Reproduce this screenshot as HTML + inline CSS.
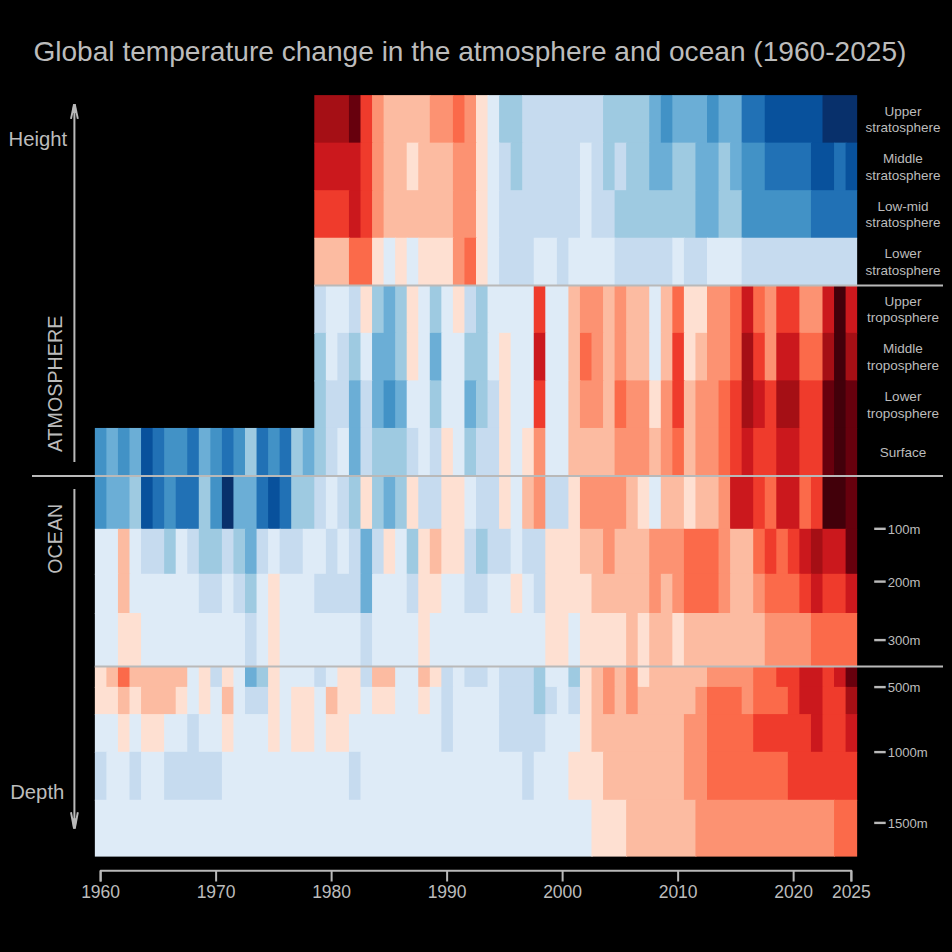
<!DOCTYPE html>
<html><head><meta charset="utf-8"><title>Global temperature change in the atmosphere and ocean (1960-2025)</title>
<style>
html,body{margin:0;padding:0;background:#000;}
body{width:952px;height:952px;overflow:hidden;}
svg{display:block;}
text{font-family:"Liberation Sans",Arial,Helvetica,sans-serif;fill:#bcbcbc;}
</style></head>
<body>
<svg width="952" height="952" viewBox="0 0 952 952">
<rect x="0" y="0" width="952" height="952" fill="#000"/>
<text x="33.4" y="60.7" font-size="28" textLength="873" lengthAdjust="spacingAndGlyphs">Global temperature change in the atmosphere and ocean (1960-2025)</text>
<g>
<rect x="314.30" y="95.10" width="35.65" height="48.55" fill="#a50f15"/>
<rect x="348.95" y="95.10" width="12.55" height="48.55" fill="#67000d"/>
<rect x="360.50" y="95.10" width="12.55" height="48.55" fill="#ef3b2c"/>
<rect x="372.05" y="95.10" width="12.55" height="48.55" fill="#fc9272"/>
<rect x="383.60" y="95.10" width="47.20" height="48.55" fill="#fcbba1"/>
<rect x="429.80" y="95.10" width="24.10" height="48.55" fill="#fc9272"/>
<rect x="452.90" y="95.10" width="12.55" height="48.55" fill="#fb6a4a"/>
<rect x="464.45" y="95.10" width="12.55" height="48.55" fill="#fc9272"/>
<rect x="476.00" y="95.10" width="12.55" height="48.55" fill="#fee0d2"/>
<rect x="487.55" y="95.10" width="12.55" height="48.55" fill="#deebf7"/>
<rect x="499.10" y="95.10" width="24.10" height="48.55" fill="#9ecae1"/>
<rect x="522.20" y="95.10" width="81.85" height="48.55" fill="#c6dbef"/>
<rect x="603.05" y="95.10" width="47.20" height="48.55" fill="#9ecae1"/>
<rect x="649.25" y="95.10" width="12.55" height="48.55" fill="#6baed6"/>
<rect x="660.80" y="95.10" width="12.55" height="48.55" fill="#4292c6"/>
<rect x="672.35" y="95.10" width="35.65" height="48.55" fill="#6baed6"/>
<rect x="707.00" y="95.10" width="12.55" height="48.55" fill="#4292c6"/>
<rect x="718.55" y="95.10" width="24.10" height="48.55" fill="#6baed6"/>
<rect x="741.65" y="95.10" width="24.10" height="48.55" fill="#2171b5"/>
<rect x="764.75" y="95.10" width="58.75" height="48.55" fill="#08519c"/>
<rect x="822.50" y="95.10" width="34.65" height="48.55" fill="#08306b"/>
<rect x="314.30" y="142.65" width="47.20" height="48.55" fill="#cb181d"/>
<rect x="360.50" y="142.65" width="12.55" height="48.55" fill="#ef3b2c"/>
<rect x="372.05" y="142.65" width="12.55" height="48.55" fill="#fc9272"/>
<rect x="383.60" y="142.65" width="24.10" height="48.55" fill="#fcbba1"/>
<rect x="406.70" y="142.65" width="12.55" height="48.55" fill="#fee0d2"/>
<rect x="418.25" y="142.65" width="35.65" height="48.55" fill="#fcbba1"/>
<rect x="452.90" y="142.65" width="24.10" height="48.55" fill="#fc9272"/>
<rect x="476.00" y="142.65" width="12.55" height="48.55" fill="#fee0d2"/>
<rect x="487.55" y="142.65" width="12.55" height="48.55" fill="#deebf7"/>
<rect x="499.10" y="142.65" width="12.55" height="48.55" fill="#c6dbef"/>
<rect x="510.65" y="142.65" width="12.55" height="48.55" fill="#9ecae1"/>
<rect x="522.20" y="142.65" width="58.75" height="48.55" fill="#c6dbef"/>
<rect x="579.95" y="142.65" width="12.55" height="48.55" fill="#deebf7"/>
<rect x="591.50" y="142.65" width="12.55" height="48.55" fill="#c6dbef"/>
<rect x="603.05" y="142.65" width="12.55" height="48.55" fill="#9ecae1"/>
<rect x="614.60" y="142.65" width="12.55" height="48.55" fill="#c6dbef"/>
<rect x="626.15" y="142.65" width="24.10" height="48.55" fill="#9ecae1"/>
<rect x="649.25" y="142.65" width="24.10" height="48.55" fill="#6baed6"/>
<rect x="672.35" y="142.65" width="24.10" height="48.55" fill="#9ecae1"/>
<rect x="695.45" y="142.65" width="24.10" height="48.55" fill="#6baed6"/>
<rect x="718.55" y="142.65" width="12.55" height="48.55" fill="#9ecae1"/>
<rect x="730.10" y="142.65" width="12.55" height="48.55" fill="#6baed6"/>
<rect x="741.65" y="142.65" width="24.10" height="48.55" fill="#4292c6"/>
<rect x="764.75" y="142.65" width="47.20" height="48.55" fill="#2171b5"/>
<rect x="810.95" y="142.65" width="24.10" height="48.55" fill="#08519c"/>
<rect x="834.05" y="142.65" width="12.55" height="48.55" fill="#2171b5"/>
<rect x="845.60" y="142.65" width="11.55" height="48.55" fill="#08519c"/>
<rect x="314.30" y="190.20" width="35.65" height="48.55" fill="#ef3b2c"/>
<rect x="348.95" y="190.20" width="12.55" height="48.55" fill="#cb181d"/>
<rect x="360.50" y="190.20" width="12.55" height="48.55" fill="#ef3b2c"/>
<rect x="372.05" y="190.20" width="12.55" height="48.55" fill="#fc9272"/>
<rect x="383.60" y="190.20" width="70.30" height="48.55" fill="#fcbba1"/>
<rect x="452.90" y="190.20" width="24.10" height="48.55" fill="#fc9272"/>
<rect x="476.00" y="190.20" width="12.55" height="48.55" fill="#fee0d2"/>
<rect x="487.55" y="190.20" width="12.55" height="48.55" fill="#deebf7"/>
<rect x="499.10" y="190.20" width="81.85" height="48.55" fill="#c6dbef"/>
<rect x="579.95" y="190.20" width="12.55" height="48.55" fill="#deebf7"/>
<rect x="591.50" y="190.20" width="24.10" height="48.55" fill="#c6dbef"/>
<rect x="614.60" y="190.20" width="81.85" height="48.55" fill="#9ecae1"/>
<rect x="695.45" y="190.20" width="24.10" height="48.55" fill="#6baed6"/>
<rect x="718.55" y="190.20" width="24.10" height="48.55" fill="#9ecae1"/>
<rect x="741.65" y="190.20" width="70.30" height="48.55" fill="#4292c6"/>
<rect x="810.95" y="190.20" width="46.20" height="48.55" fill="#2171b5"/>
<rect x="314.30" y="237.75" width="35.65" height="48.55" fill="#fcbba1"/>
<rect x="348.95" y="237.75" width="24.10" height="48.55" fill="#fb6a4a"/>
<rect x="372.05" y="237.75" width="12.55" height="48.55" fill="#fee0d2"/>
<rect x="383.60" y="237.75" width="12.55" height="48.55" fill="#deebf7"/>
<rect x="395.15" y="237.75" width="12.55" height="48.55" fill="#fee0d2"/>
<rect x="406.70" y="237.75" width="12.55" height="48.55" fill="#deebf7"/>
<rect x="418.25" y="237.75" width="35.65" height="48.55" fill="#fee0d2"/>
<rect x="452.90" y="237.75" width="12.55" height="48.55" fill="#fc9272"/>
<rect x="464.45" y="237.75" width="12.55" height="48.55" fill="#fb6a4a"/>
<rect x="476.00" y="237.75" width="12.55" height="48.55" fill="#fee0d2"/>
<rect x="487.55" y="237.75" width="12.55" height="48.55" fill="#deebf7"/>
<rect x="499.10" y="237.75" width="35.65" height="48.55" fill="#c6dbef"/>
<rect x="533.75" y="237.75" width="24.10" height="48.55" fill="#deebf7"/>
<rect x="556.85" y="237.75" width="12.55" height="48.55" fill="#c6dbef"/>
<rect x="568.40" y="237.75" width="47.20" height="48.55" fill="#deebf7"/>
<rect x="614.60" y="237.75" width="58.75" height="48.55" fill="#c6dbef"/>
<rect x="672.35" y="237.75" width="12.55" height="48.55" fill="#deebf7"/>
<rect x="683.90" y="237.75" width="24.10" height="48.55" fill="#c6dbef"/>
<rect x="707.00" y="237.75" width="35.65" height="48.55" fill="#deebf7"/>
<rect x="741.65" y="237.75" width="115.50" height="48.55" fill="#c6dbef"/>
<rect x="314.30" y="285.30" width="12.55" height="48.55" fill="#c6dbef"/>
<rect x="325.85" y="285.30" width="24.10" height="48.55" fill="#deebf7"/>
<rect x="348.95" y="285.30" width="12.55" height="48.55" fill="#c6dbef"/>
<rect x="360.50" y="285.30" width="12.55" height="48.55" fill="#fee0d2"/>
<rect x="372.05" y="285.30" width="12.55" height="48.55" fill="#9ecae1"/>
<rect x="383.60" y="285.30" width="12.55" height="48.55" fill="#6baed6"/>
<rect x="395.15" y="285.30" width="12.55" height="48.55" fill="#9ecae1"/>
<rect x="406.70" y="285.30" width="12.55" height="48.55" fill="#fee0d2"/>
<rect x="418.25" y="285.30" width="12.55" height="48.55" fill="#deebf7"/>
<rect x="429.80" y="285.30" width="12.55" height="48.55" fill="#9ecae1"/>
<rect x="441.35" y="285.30" width="12.55" height="48.55" fill="#deebf7"/>
<rect x="452.90" y="285.30" width="12.55" height="48.55" fill="#fee0d2"/>
<rect x="464.45" y="285.30" width="12.55" height="48.55" fill="#c6dbef"/>
<rect x="476.00" y="285.30" width="12.55" height="48.55" fill="#9ecae1"/>
<rect x="487.55" y="285.30" width="47.20" height="48.55" fill="#deebf7"/>
<rect x="533.75" y="285.30" width="12.55" height="48.55" fill="#ef3b2c"/>
<rect x="545.30" y="285.30" width="24.10" height="48.55" fill="#deebf7"/>
<rect x="568.40" y="285.30" width="12.55" height="48.55" fill="#fcbba1"/>
<rect x="579.95" y="285.30" width="24.10" height="48.55" fill="#fc9272"/>
<rect x="603.05" y="285.30" width="12.55" height="48.55" fill="#fcbba1"/>
<rect x="614.60" y="285.30" width="12.55" height="48.55" fill="#fc9272"/>
<rect x="626.15" y="285.30" width="24.10" height="48.55" fill="#fcbba1"/>
<rect x="649.25" y="285.30" width="12.55" height="48.55" fill="#deebf7"/>
<rect x="660.80" y="285.30" width="12.55" height="48.55" fill="#fcbba1"/>
<rect x="672.35" y="285.30" width="12.55" height="48.55" fill="#fb6a4a"/>
<rect x="683.90" y="285.30" width="24.10" height="48.55" fill="#fee0d2"/>
<rect x="707.00" y="285.30" width="24.10" height="48.55" fill="#fc9272"/>
<rect x="730.10" y="285.30" width="12.55" height="48.55" fill="#fb6a4a"/>
<rect x="741.65" y="285.30" width="12.55" height="48.55" fill="#cb181d"/>
<rect x="753.20" y="285.30" width="12.55" height="48.55" fill="#fb6a4a"/>
<rect x="764.75" y="285.30" width="12.55" height="48.55" fill="#fc9272"/>
<rect x="776.30" y="285.30" width="24.10" height="48.55" fill="#ef3b2c"/>
<rect x="799.40" y="285.30" width="24.10" height="48.55" fill="#fc9272"/>
<rect x="822.50" y="285.30" width="12.55" height="48.55" fill="#cb181d"/>
<rect x="834.05" y="285.30" width="12.55" height="48.55" fill="#42000a"/>
<rect x="845.60" y="285.30" width="11.55" height="48.55" fill="#cb181d"/>
<rect x="314.30" y="332.85" width="12.55" height="48.55" fill="#9ecae1"/>
<rect x="325.85" y="332.85" width="12.55" height="48.55" fill="#deebf7"/>
<rect x="337.40" y="332.85" width="12.55" height="48.55" fill="#c6dbef"/>
<rect x="348.95" y="332.85" width="12.55" height="48.55" fill="#9ecae1"/>
<rect x="360.50" y="332.85" width="12.55" height="48.55" fill="#deebf7"/>
<rect x="372.05" y="332.85" width="24.10" height="48.55" fill="#6baed6"/>
<rect x="395.15" y="332.85" width="12.55" height="48.55" fill="#9ecae1"/>
<rect x="406.70" y="332.85" width="12.55" height="48.55" fill="#fee0d2"/>
<rect x="418.25" y="332.85" width="12.55" height="48.55" fill="#deebf7"/>
<rect x="429.80" y="332.85" width="12.55" height="48.55" fill="#6baed6"/>
<rect x="441.35" y="332.85" width="24.10" height="48.55" fill="#deebf7"/>
<rect x="464.45" y="332.85" width="24.10" height="48.55" fill="#9ecae1"/>
<rect x="487.55" y="332.85" width="12.55" height="48.55" fill="#deebf7"/>
<rect x="499.10" y="332.85" width="12.55" height="48.55" fill="#fee0d2"/>
<rect x="510.65" y="332.85" width="24.10" height="48.55" fill="#deebf7"/>
<rect x="533.75" y="332.85" width="12.55" height="48.55" fill="#cb181d"/>
<rect x="545.30" y="332.85" width="24.10" height="48.55" fill="#deebf7"/>
<rect x="568.40" y="332.85" width="12.55" height="48.55" fill="#fcbba1"/>
<rect x="579.95" y="332.85" width="12.55" height="48.55" fill="#fb6a4a"/>
<rect x="591.50" y="332.85" width="12.55" height="48.55" fill="#fc9272"/>
<rect x="603.05" y="332.85" width="12.55" height="48.55" fill="#fcbba1"/>
<rect x="614.60" y="332.85" width="12.55" height="48.55" fill="#fc9272"/>
<rect x="626.15" y="332.85" width="24.10" height="48.55" fill="#fcbba1"/>
<rect x="649.25" y="332.85" width="12.55" height="48.55" fill="#deebf7"/>
<rect x="660.80" y="332.85" width="12.55" height="48.55" fill="#fcbba1"/>
<rect x="672.35" y="332.85" width="12.55" height="48.55" fill="#ef3b2c"/>
<rect x="683.90" y="332.85" width="12.55" height="48.55" fill="#fee0d2"/>
<rect x="695.45" y="332.85" width="12.55" height="48.55" fill="#fcbba1"/>
<rect x="707.00" y="332.85" width="24.10" height="48.55" fill="#fc9272"/>
<rect x="730.10" y="332.85" width="12.55" height="48.55" fill="#fb6a4a"/>
<rect x="741.65" y="332.85" width="12.55" height="48.55" fill="#a50f15"/>
<rect x="753.20" y="332.85" width="12.55" height="48.55" fill="#ef3b2c"/>
<rect x="764.75" y="332.85" width="12.55" height="48.55" fill="#fc9272"/>
<rect x="776.30" y="332.85" width="24.10" height="48.55" fill="#cb181d"/>
<rect x="799.40" y="332.85" width="24.10" height="48.55" fill="#fb6a4a"/>
<rect x="822.50" y="332.85" width="12.55" height="48.55" fill="#a50f15"/>
<rect x="834.05" y="332.85" width="12.55" height="48.55" fill="#42000a"/>
<rect x="845.60" y="332.85" width="11.55" height="48.55" fill="#a50f15"/>
<rect x="314.30" y="380.40" width="12.55" height="48.55" fill="#9ecae1"/>
<rect x="325.85" y="380.40" width="24.10" height="48.55" fill="#c6dbef"/>
<rect x="348.95" y="380.40" width="12.55" height="48.55" fill="#6baed6"/>
<rect x="360.50" y="380.40" width="12.55" height="48.55" fill="#c6dbef"/>
<rect x="372.05" y="380.40" width="12.55" height="48.55" fill="#6baed6"/>
<rect x="383.60" y="380.40" width="12.55" height="48.55" fill="#4292c6"/>
<rect x="395.15" y="380.40" width="12.55" height="48.55" fill="#6baed6"/>
<rect x="406.70" y="380.40" width="24.10" height="48.55" fill="#deebf7"/>
<rect x="429.80" y="380.40" width="12.55" height="48.55" fill="#9ecae1"/>
<rect x="441.35" y="380.40" width="24.10" height="48.55" fill="#deebf7"/>
<rect x="464.45" y="380.40" width="12.55" height="48.55" fill="#6baed6"/>
<rect x="476.00" y="380.40" width="12.55" height="48.55" fill="#9ecae1"/>
<rect x="487.55" y="380.40" width="12.55" height="48.55" fill="#c6dbef"/>
<rect x="499.10" y="380.40" width="12.55" height="48.55" fill="#fee0d2"/>
<rect x="510.65" y="380.40" width="24.10" height="48.55" fill="#deebf7"/>
<rect x="533.75" y="380.40" width="12.55" height="48.55" fill="#ef3b2c"/>
<rect x="545.30" y="380.40" width="24.10" height="48.55" fill="#deebf7"/>
<rect x="568.40" y="380.40" width="12.55" height="48.55" fill="#fcbba1"/>
<rect x="579.95" y="380.40" width="24.10" height="48.55" fill="#fc9272"/>
<rect x="603.05" y="380.40" width="12.55" height="48.55" fill="#fcbba1"/>
<rect x="614.60" y="380.40" width="12.55" height="48.55" fill="#fb6a4a"/>
<rect x="626.15" y="380.40" width="24.10" height="48.55" fill="#fc9272"/>
<rect x="649.25" y="380.40" width="12.55" height="48.55" fill="#fee0d2"/>
<rect x="660.80" y="380.40" width="12.55" height="48.55" fill="#fc9272"/>
<rect x="672.35" y="380.40" width="12.55" height="48.55" fill="#ef3b2c"/>
<rect x="683.90" y="380.40" width="12.55" height="48.55" fill="#fcbba1"/>
<rect x="695.45" y="380.40" width="24.10" height="48.55" fill="#fc9272"/>
<rect x="718.55" y="380.40" width="12.55" height="48.55" fill="#fb6a4a"/>
<rect x="730.10" y="380.40" width="12.55" height="48.55" fill="#ef3b2c"/>
<rect x="741.65" y="380.40" width="12.55" height="48.55" fill="#a50f15"/>
<rect x="753.20" y="380.40" width="12.55" height="48.55" fill="#cb181d"/>
<rect x="764.75" y="380.40" width="12.55" height="48.55" fill="#ef3b2c"/>
<rect x="776.30" y="380.40" width="24.10" height="48.55" fill="#a50f15"/>
<rect x="799.40" y="380.40" width="24.10" height="48.55" fill="#ef3b2c"/>
<rect x="822.50" y="380.40" width="12.55" height="48.55" fill="#67000d"/>
<rect x="834.05" y="380.40" width="12.55" height="48.55" fill="#42000a"/>
<rect x="845.60" y="380.40" width="11.55" height="48.55" fill="#67000d"/>
<rect x="94.85" y="427.95" width="12.55" height="48.55" fill="#4292c6"/>
<rect x="106.40" y="427.95" width="12.55" height="48.55" fill="#6baed6"/>
<rect x="117.95" y="427.95" width="12.55" height="48.55" fill="#4292c6"/>
<rect x="129.50" y="427.95" width="12.55" height="48.55" fill="#6baed6"/>
<rect x="141.05" y="427.95" width="12.55" height="48.55" fill="#08519c"/>
<rect x="152.60" y="427.95" width="12.55" height="48.55" fill="#2171b5"/>
<rect x="164.15" y="427.95" width="24.10" height="48.55" fill="#4292c6"/>
<rect x="187.25" y="427.95" width="12.55" height="48.55" fill="#2171b5"/>
<rect x="198.80" y="427.95" width="12.55" height="48.55" fill="#6baed6"/>
<rect x="210.35" y="427.95" width="12.55" height="48.55" fill="#4292c6"/>
<rect x="221.90" y="427.95" width="12.55" height="48.55" fill="#2171b5"/>
<rect x="233.45" y="427.95" width="12.55" height="48.55" fill="#4292c6"/>
<rect x="245.00" y="427.95" width="12.55" height="48.55" fill="#9ecae1"/>
<rect x="256.55" y="427.95" width="12.55" height="48.55" fill="#2171b5"/>
<rect x="268.10" y="427.95" width="12.55" height="48.55" fill="#4292c6"/>
<rect x="279.65" y="427.95" width="12.55" height="48.55" fill="#2171b5"/>
<rect x="291.20" y="427.95" width="12.55" height="48.55" fill="#9ecae1"/>
<rect x="302.75" y="427.95" width="12.55" height="48.55" fill="#6baed6"/>
<rect x="314.30" y="427.95" width="12.55" height="48.55" fill="#9ecae1"/>
<rect x="325.85" y="427.95" width="12.55" height="48.55" fill="#c6dbef"/>
<rect x="337.40" y="427.95" width="12.55" height="48.55" fill="#deebf7"/>
<rect x="348.95" y="427.95" width="12.55" height="48.55" fill="#6baed6"/>
<rect x="360.50" y="427.95" width="12.55" height="48.55" fill="#c6dbef"/>
<rect x="372.05" y="427.95" width="35.65" height="48.55" fill="#9ecae1"/>
<rect x="406.70" y="427.95" width="12.55" height="48.55" fill="#c6dbef"/>
<rect x="418.25" y="427.95" width="12.55" height="48.55" fill="#deebf7"/>
<rect x="429.80" y="427.95" width="12.55" height="48.55" fill="#c6dbef"/>
<rect x="441.35" y="427.95" width="12.55" height="48.55" fill="#fee0d2"/>
<rect x="452.90" y="427.95" width="12.55" height="48.55" fill="#deebf7"/>
<rect x="464.45" y="427.95" width="12.55" height="48.55" fill="#9ecae1"/>
<rect x="476.00" y="427.95" width="24.10" height="48.55" fill="#c6dbef"/>
<rect x="499.10" y="427.95" width="12.55" height="48.55" fill="#fee0d2"/>
<rect x="510.65" y="427.95" width="12.55" height="48.55" fill="#deebf7"/>
<rect x="522.20" y="427.95" width="12.55" height="48.55" fill="#fee0d2"/>
<rect x="533.75" y="427.95" width="12.55" height="48.55" fill="#fc9272"/>
<rect x="545.30" y="427.95" width="24.10" height="48.55" fill="#deebf7"/>
<rect x="568.40" y="427.95" width="47.20" height="48.55" fill="#fcbba1"/>
<rect x="614.60" y="427.95" width="35.65" height="48.55" fill="#fc9272"/>
<rect x="649.25" y="427.95" width="12.55" height="48.55" fill="#fcbba1"/>
<rect x="660.80" y="427.95" width="12.55" height="48.55" fill="#fc9272"/>
<rect x="672.35" y="427.95" width="12.55" height="48.55" fill="#fb6a4a"/>
<rect x="683.90" y="427.95" width="12.55" height="48.55" fill="#fcbba1"/>
<rect x="695.45" y="427.95" width="24.10" height="48.55" fill="#fc9272"/>
<rect x="718.55" y="427.95" width="12.55" height="48.55" fill="#fb6a4a"/>
<rect x="730.10" y="427.95" width="12.55" height="48.55" fill="#ef3b2c"/>
<rect x="741.65" y="427.95" width="12.55" height="48.55" fill="#cb181d"/>
<rect x="753.20" y="427.95" width="24.10" height="48.55" fill="#ef3b2c"/>
<rect x="776.30" y="427.95" width="24.10" height="48.55" fill="#cb181d"/>
<rect x="799.40" y="427.95" width="24.10" height="48.55" fill="#ef3b2c"/>
<rect x="822.50" y="427.95" width="12.55" height="48.55" fill="#67000d"/>
<rect x="834.05" y="427.95" width="12.55" height="48.55" fill="#42000a"/>
<rect x="845.60" y="427.95" width="11.55" height="48.55" fill="#67000d"/>
<rect x="94.85" y="475.50" width="12.55" height="54.30" fill="#4292c6"/>
<rect x="106.40" y="475.50" width="24.10" height="54.30" fill="#6baed6"/>
<rect x="129.50" y="475.50" width="12.55" height="54.30" fill="#9ecae1"/>
<rect x="141.05" y="475.50" width="12.55" height="54.30" fill="#08519c"/>
<rect x="152.60" y="475.50" width="12.55" height="54.30" fill="#2171b5"/>
<rect x="164.15" y="475.50" width="12.55" height="54.30" fill="#4292c6"/>
<rect x="175.70" y="475.50" width="24.10" height="54.30" fill="#2171b5"/>
<rect x="198.80" y="475.50" width="12.55" height="54.30" fill="#9ecae1"/>
<rect x="210.35" y="475.50" width="12.55" height="54.30" fill="#4292c6"/>
<rect x="221.90" y="475.50" width="12.55" height="54.30" fill="#08306b"/>
<rect x="233.45" y="475.50" width="24.10" height="54.30" fill="#6baed6"/>
<rect x="256.55" y="475.50" width="12.55" height="54.30" fill="#2171b5"/>
<rect x="268.10" y="475.50" width="12.55" height="54.30" fill="#08519c"/>
<rect x="279.65" y="475.50" width="12.55" height="54.30" fill="#2171b5"/>
<rect x="291.20" y="475.50" width="24.10" height="54.30" fill="#9ecae1"/>
<rect x="314.30" y="475.50" width="12.55" height="54.30" fill="#c6dbef"/>
<rect x="325.85" y="475.50" width="12.55" height="54.30" fill="#deebf7"/>
<rect x="337.40" y="475.50" width="12.55" height="54.30" fill="#c6dbef"/>
<rect x="348.95" y="475.50" width="12.55" height="54.30" fill="#9ecae1"/>
<rect x="360.50" y="475.50" width="12.55" height="54.30" fill="#fee0d2"/>
<rect x="372.05" y="475.50" width="12.55" height="54.30" fill="#9ecae1"/>
<rect x="383.60" y="475.50" width="12.55" height="54.30" fill="#6baed6"/>
<rect x="395.15" y="475.50" width="12.55" height="54.30" fill="#9ecae1"/>
<rect x="406.70" y="475.50" width="12.55" height="54.30" fill="#fee0d2"/>
<rect x="418.25" y="475.50" width="24.10" height="54.30" fill="#c6dbef"/>
<rect x="441.35" y="475.50" width="24.10" height="54.30" fill="#fee0d2"/>
<rect x="464.45" y="475.50" width="12.55" height="54.30" fill="#deebf7"/>
<rect x="476.00" y="475.50" width="24.10" height="54.30" fill="#c6dbef"/>
<rect x="499.10" y="475.50" width="12.55" height="54.30" fill="#fee0d2"/>
<rect x="510.65" y="475.50" width="12.55" height="54.30" fill="#deebf7"/>
<rect x="522.20" y="475.50" width="12.55" height="54.30" fill="#fcbba1"/>
<rect x="533.75" y="475.50" width="12.55" height="54.30" fill="#fc9272"/>
<rect x="545.30" y="475.50" width="24.10" height="54.30" fill="#c6dbef"/>
<rect x="568.40" y="475.50" width="12.55" height="54.30" fill="#fee0d2"/>
<rect x="579.95" y="475.50" width="47.20" height="54.30" fill="#fc9272"/>
<rect x="626.15" y="475.50" width="12.55" height="54.30" fill="#fcbba1"/>
<rect x="637.70" y="475.50" width="12.55" height="54.30" fill="#fee0d2"/>
<rect x="649.25" y="475.50" width="12.55" height="54.30" fill="#deebf7"/>
<rect x="660.80" y="475.50" width="24.10" height="54.30" fill="#fcbba1"/>
<rect x="683.90" y="475.50" width="12.55" height="54.30" fill="#fee0d2"/>
<rect x="695.45" y="475.50" width="24.10" height="54.30" fill="#fcbba1"/>
<rect x="718.55" y="475.50" width="12.55" height="54.30" fill="#fc9272"/>
<rect x="730.10" y="475.50" width="24.10" height="54.30" fill="#cb181d"/>
<rect x="753.20" y="475.50" width="12.55" height="54.30" fill="#ef3b2c"/>
<rect x="764.75" y="475.50" width="12.55" height="54.30" fill="#fb6a4a"/>
<rect x="776.30" y="475.50" width="24.10" height="54.30" fill="#cb181d"/>
<rect x="799.40" y="475.50" width="12.55" height="54.30" fill="#fb6a4a"/>
<rect x="810.95" y="475.50" width="12.55" height="54.30" fill="#ef3b2c"/>
<rect x="822.50" y="475.50" width="24.10" height="54.30" fill="#42000a"/>
<rect x="845.60" y="475.50" width="11.55" height="54.30" fill="#67000d"/>
<rect x="94.85" y="528.80" width="24.10" height="46.00" fill="#deebf7"/>
<rect x="117.95" y="528.80" width="12.55" height="46.00" fill="#fcbba1"/>
<rect x="129.50" y="528.80" width="12.55" height="46.00" fill="#deebf7"/>
<rect x="141.05" y="528.80" width="24.10" height="46.00" fill="#c6dbef"/>
<rect x="164.15" y="528.80" width="12.55" height="46.00" fill="#9ecae1"/>
<rect x="175.70" y="528.80" width="12.55" height="46.00" fill="#deebf7"/>
<rect x="187.25" y="528.80" width="12.55" height="46.00" fill="#c6dbef"/>
<rect x="198.80" y="528.80" width="24.10" height="46.00" fill="#9ecae1"/>
<rect x="221.90" y="528.80" width="12.55" height="46.00" fill="#c6dbef"/>
<rect x="233.45" y="528.80" width="12.55" height="46.00" fill="#9ecae1"/>
<rect x="245.00" y="528.80" width="12.55" height="46.00" fill="#6baed6"/>
<rect x="256.55" y="528.80" width="12.55" height="46.00" fill="#c6dbef"/>
<rect x="268.10" y="528.80" width="12.55" height="46.00" fill="#deebf7"/>
<rect x="279.65" y="528.80" width="24.10" height="46.00" fill="#c6dbef"/>
<rect x="302.75" y="528.80" width="24.10" height="46.00" fill="#deebf7"/>
<rect x="325.85" y="528.80" width="12.55" height="46.00" fill="#c6dbef"/>
<rect x="337.40" y="528.80" width="12.55" height="46.00" fill="#deebf7"/>
<rect x="348.95" y="528.80" width="12.55" height="46.00" fill="#c6dbef"/>
<rect x="360.50" y="528.80" width="12.55" height="46.00" fill="#6baed6"/>
<rect x="372.05" y="528.80" width="12.55" height="46.00" fill="#c6dbef"/>
<rect x="383.60" y="528.80" width="12.55" height="46.00" fill="#fee0d2"/>
<rect x="395.15" y="528.80" width="12.55" height="46.00" fill="#deebf7"/>
<rect x="406.70" y="528.80" width="12.55" height="46.00" fill="#9ecae1"/>
<rect x="418.25" y="528.80" width="12.55" height="46.00" fill="#fee0d2"/>
<rect x="429.80" y="528.80" width="12.55" height="46.00" fill="#fcbba1"/>
<rect x="441.35" y="528.80" width="24.10" height="46.00" fill="#fee0d2"/>
<rect x="464.45" y="528.80" width="12.55" height="46.00" fill="#c6dbef"/>
<rect x="476.00" y="528.80" width="12.55" height="46.00" fill="#9ecae1"/>
<rect x="487.55" y="528.80" width="24.10" height="46.00" fill="#c6dbef"/>
<rect x="510.65" y="528.80" width="12.55" height="46.00" fill="#deebf7"/>
<rect x="522.20" y="528.80" width="24.10" height="46.00" fill="#c6dbef"/>
<rect x="545.30" y="528.80" width="35.65" height="46.00" fill="#fee0d2"/>
<rect x="579.95" y="528.80" width="24.10" height="46.00" fill="#fcbba1"/>
<rect x="603.05" y="528.80" width="12.55" height="46.00" fill="#fc9272"/>
<rect x="614.60" y="528.80" width="35.65" height="46.00" fill="#fcbba1"/>
<rect x="649.25" y="528.80" width="35.65" height="46.00" fill="#fc9272"/>
<rect x="683.90" y="528.80" width="35.65" height="46.00" fill="#fb6a4a"/>
<rect x="718.55" y="528.80" width="12.55" height="46.00" fill="#fc9272"/>
<rect x="730.10" y="528.80" width="24.10" height="46.00" fill="#fcbba1"/>
<rect x="753.20" y="528.80" width="12.55" height="46.00" fill="#fb6a4a"/>
<rect x="764.75" y="528.80" width="12.55" height="46.00" fill="#ef3b2c"/>
<rect x="776.30" y="528.80" width="12.55" height="46.00" fill="#fb6a4a"/>
<rect x="787.85" y="528.80" width="12.55" height="46.00" fill="#ef3b2c"/>
<rect x="799.40" y="528.80" width="12.55" height="46.00" fill="#cb181d"/>
<rect x="810.95" y="528.80" width="12.55" height="46.00" fill="#a50f15"/>
<rect x="822.50" y="528.80" width="24.10" height="46.00" fill="#cb181d"/>
<rect x="845.60" y="528.80" width="11.55" height="46.00" fill="#67000d"/>
<rect x="94.85" y="573.80" width="24.10" height="40.20" fill="#deebf7"/>
<rect x="117.95" y="573.80" width="12.55" height="40.20" fill="#fcbba1"/>
<rect x="129.50" y="573.80" width="70.30" height="40.20" fill="#deebf7"/>
<rect x="198.80" y="573.80" width="24.10" height="40.20" fill="#c6dbef"/>
<rect x="221.90" y="573.80" width="12.55" height="40.20" fill="#deebf7"/>
<rect x="233.45" y="573.80" width="12.55" height="40.20" fill="#c6dbef"/>
<rect x="245.00" y="573.80" width="12.55" height="40.20" fill="#9ecae1"/>
<rect x="256.55" y="573.80" width="12.55" height="40.20" fill="#deebf7"/>
<rect x="268.10" y="573.80" width="12.55" height="40.20" fill="#fee0d2"/>
<rect x="279.65" y="573.80" width="35.65" height="40.20" fill="#deebf7"/>
<rect x="314.30" y="573.80" width="47.20" height="40.20" fill="#c6dbef"/>
<rect x="360.50" y="573.80" width="12.55" height="40.20" fill="#6baed6"/>
<rect x="372.05" y="573.80" width="35.65" height="40.20" fill="#deebf7"/>
<rect x="406.70" y="573.80" width="12.55" height="40.20" fill="#c6dbef"/>
<rect x="418.25" y="573.80" width="24.10" height="40.20" fill="#fee0d2"/>
<rect x="441.35" y="573.80" width="24.10" height="40.20" fill="#deebf7"/>
<rect x="464.45" y="573.80" width="24.10" height="40.20" fill="#c6dbef"/>
<rect x="487.55" y="573.80" width="24.10" height="40.20" fill="#deebf7"/>
<rect x="510.65" y="573.80" width="12.55" height="40.20" fill="#fee0d2"/>
<rect x="522.20" y="573.80" width="12.55" height="40.20" fill="#deebf7"/>
<rect x="533.75" y="573.80" width="12.55" height="40.20" fill="#c6dbef"/>
<rect x="545.30" y="573.80" width="47.20" height="40.20" fill="#fee0d2"/>
<rect x="591.50" y="573.80" width="58.75" height="40.20" fill="#fcbba1"/>
<rect x="649.25" y="573.80" width="12.55" height="40.20" fill="#fc9272"/>
<rect x="660.80" y="573.80" width="12.55" height="40.20" fill="#fcbba1"/>
<rect x="672.35" y="573.80" width="12.55" height="40.20" fill="#fc9272"/>
<rect x="683.90" y="573.80" width="35.65" height="40.20" fill="#fb6a4a"/>
<rect x="718.55" y="573.80" width="12.55" height="40.20" fill="#fc9272"/>
<rect x="730.10" y="573.80" width="24.10" height="40.20" fill="#fcbba1"/>
<rect x="753.20" y="573.80" width="12.55" height="40.20" fill="#fc9272"/>
<rect x="764.75" y="573.80" width="35.65" height="40.20" fill="#fb6a4a"/>
<rect x="799.40" y="573.80" width="12.55" height="40.20" fill="#ef3b2c"/>
<rect x="810.95" y="573.80" width="12.55" height="40.20" fill="#cb181d"/>
<rect x="822.50" y="573.80" width="24.10" height="40.20" fill="#ef3b2c"/>
<rect x="845.60" y="573.80" width="11.55" height="40.20" fill="#cb181d"/>
<rect x="94.85" y="613.00" width="24.10" height="54.40" fill="#deebf7"/>
<rect x="117.95" y="613.00" width="24.10" height="54.40" fill="#fee0d2"/>
<rect x="141.05" y="613.00" width="104.95" height="54.40" fill="#deebf7"/>
<rect x="245.00" y="613.00" width="12.55" height="54.40" fill="#c6dbef"/>
<rect x="256.55" y="613.00" width="12.55" height="54.40" fill="#deebf7"/>
<rect x="268.10" y="613.00" width="12.55" height="54.40" fill="#fee0d2"/>
<rect x="279.65" y="613.00" width="81.85" height="54.40" fill="#deebf7"/>
<rect x="360.50" y="613.00" width="12.55" height="54.40" fill="#c6dbef"/>
<rect x="372.05" y="613.00" width="47.20" height="54.40" fill="#deebf7"/>
<rect x="418.25" y="613.00" width="12.55" height="54.40" fill="#fee0d2"/>
<rect x="429.80" y="613.00" width="116.50" height="54.40" fill="#deebf7"/>
<rect x="545.30" y="613.00" width="24.10" height="54.40" fill="#fee0d2"/>
<rect x="568.40" y="613.00" width="12.55" height="54.40" fill="#deebf7"/>
<rect x="579.95" y="613.00" width="47.20" height="54.40" fill="#fee0d2"/>
<rect x="626.15" y="613.00" width="12.55" height="54.40" fill="#fcbba1"/>
<rect x="637.70" y="613.00" width="12.55" height="54.40" fill="#fee0d2"/>
<rect x="649.25" y="613.00" width="24.10" height="54.40" fill="#fcbba1"/>
<rect x="672.35" y="613.00" width="12.55" height="54.40" fill="#fee0d2"/>
<rect x="683.90" y="613.00" width="81.85" height="54.40" fill="#fcbba1"/>
<rect x="764.75" y="613.00" width="47.20" height="54.40" fill="#fc9272"/>
<rect x="810.95" y="613.00" width="46.20" height="54.40" fill="#fb6a4a"/>
<rect x="94.85" y="666.40" width="12.55" height="21.50" fill="#fee0d2"/>
<rect x="106.40" y="666.40" width="12.55" height="21.50" fill="#fcbba1"/>
<rect x="117.95" y="666.40" width="12.55" height="21.50" fill="#fb6a4a"/>
<rect x="129.50" y="666.40" width="58.75" height="21.50" fill="#fcbba1"/>
<rect x="187.25" y="666.40" width="12.55" height="21.50" fill="#deebf7"/>
<rect x="198.80" y="666.40" width="12.55" height="21.50" fill="#fee0d2"/>
<rect x="210.35" y="666.40" width="12.55" height="21.50" fill="#c6dbef"/>
<rect x="221.90" y="666.40" width="12.55" height="21.50" fill="#fee0d2"/>
<rect x="233.45" y="666.40" width="12.55" height="21.50" fill="#deebf7"/>
<rect x="245.00" y="666.40" width="12.55" height="21.50" fill="#6baed6"/>
<rect x="256.55" y="666.40" width="12.55" height="21.50" fill="#9ecae1"/>
<rect x="268.10" y="666.40" width="12.55" height="21.50" fill="#fee0d2"/>
<rect x="279.65" y="666.40" width="35.65" height="21.50" fill="#deebf7"/>
<rect x="314.30" y="666.40" width="12.55" height="21.50" fill="#c6dbef"/>
<rect x="325.85" y="666.40" width="12.55" height="21.50" fill="#deebf7"/>
<rect x="337.40" y="666.40" width="24.10" height="21.50" fill="#fee0d2"/>
<rect x="360.50" y="666.40" width="12.55" height="21.50" fill="#c6dbef"/>
<rect x="372.05" y="666.40" width="24.10" height="21.50" fill="#fcbba1"/>
<rect x="395.15" y="666.40" width="24.10" height="21.50" fill="#deebf7"/>
<rect x="418.25" y="666.40" width="12.55" height="21.50" fill="#fcbba1"/>
<rect x="429.80" y="666.40" width="12.55" height="21.50" fill="#fee0d2"/>
<rect x="441.35" y="666.40" width="12.55" height="21.50" fill="#c6dbef"/>
<rect x="452.90" y="666.40" width="12.55" height="21.50" fill="#deebf7"/>
<rect x="464.45" y="666.40" width="24.10" height="21.50" fill="#c6dbef"/>
<rect x="487.55" y="666.40" width="12.55" height="21.50" fill="#deebf7"/>
<rect x="499.10" y="666.40" width="35.65" height="21.50" fill="#c6dbef"/>
<rect x="533.75" y="666.40" width="12.55" height="21.50" fill="#9ecae1"/>
<rect x="545.30" y="666.40" width="24.10" height="21.50" fill="#deebf7"/>
<rect x="568.40" y="666.40" width="12.55" height="21.50" fill="#9ecae1"/>
<rect x="579.95" y="666.40" width="12.55" height="21.50" fill="#fee0d2"/>
<rect x="591.50" y="666.40" width="12.55" height="21.50" fill="#fcbba1"/>
<rect x="603.05" y="666.40" width="12.55" height="21.50" fill="#fc9272"/>
<rect x="614.60" y="666.40" width="12.55" height="21.50" fill="#fcbba1"/>
<rect x="626.15" y="666.40" width="12.55" height="21.50" fill="#fc9272"/>
<rect x="637.70" y="666.40" width="12.55" height="21.50" fill="#fee0d2"/>
<rect x="649.25" y="666.40" width="58.75" height="21.50" fill="#fcbba1"/>
<rect x="707.00" y="666.40" width="47.20" height="21.50" fill="#fc9272"/>
<rect x="753.20" y="666.40" width="24.10" height="21.50" fill="#fb6a4a"/>
<rect x="776.30" y="666.40" width="24.10" height="21.50" fill="#ef3b2c"/>
<rect x="799.40" y="666.40" width="24.10" height="21.50" fill="#cb181d"/>
<rect x="822.50" y="666.40" width="12.55" height="21.50" fill="#ef3b2c"/>
<rect x="834.05" y="666.40" width="12.55" height="21.50" fill="#cb181d"/>
<rect x="845.60" y="666.40" width="11.55" height="21.50" fill="#67000d"/>
<rect x="94.85" y="686.90" width="24.10" height="28.20" fill="#fee0d2"/>
<rect x="117.95" y="686.90" width="12.55" height="28.20" fill="#fcbba1"/>
<rect x="129.50" y="686.90" width="12.55" height="28.20" fill="#fee0d2"/>
<rect x="141.05" y="686.90" width="35.65" height="28.20" fill="#fcbba1"/>
<rect x="175.70" y="686.90" width="12.55" height="28.20" fill="#fee0d2"/>
<rect x="187.25" y="686.90" width="12.55" height="28.20" fill="#deebf7"/>
<rect x="198.80" y="686.90" width="12.55" height="28.20" fill="#fee0d2"/>
<rect x="210.35" y="686.90" width="12.55" height="28.20" fill="#deebf7"/>
<rect x="221.90" y="686.90" width="12.55" height="28.20" fill="#fcbba1"/>
<rect x="233.45" y="686.90" width="12.55" height="28.20" fill="#deebf7"/>
<rect x="245.00" y="686.90" width="24.10" height="28.20" fill="#c6dbef"/>
<rect x="268.10" y="686.90" width="12.55" height="28.20" fill="#fee0d2"/>
<rect x="279.65" y="686.90" width="12.55" height="28.20" fill="#deebf7"/>
<rect x="291.20" y="686.90" width="24.10" height="28.20" fill="#fee0d2"/>
<rect x="314.30" y="686.90" width="12.55" height="28.20" fill="#deebf7"/>
<rect x="325.85" y="686.90" width="12.55" height="28.20" fill="#fcbba1"/>
<rect x="337.40" y="686.90" width="24.10" height="28.20" fill="#fee0d2"/>
<rect x="360.50" y="686.90" width="12.55" height="28.20" fill="#deebf7"/>
<rect x="372.05" y="686.90" width="24.10" height="28.20" fill="#fee0d2"/>
<rect x="395.15" y="686.90" width="24.10" height="28.20" fill="#deebf7"/>
<rect x="418.25" y="686.90" width="12.55" height="28.20" fill="#fee0d2"/>
<rect x="429.80" y="686.90" width="12.55" height="28.20" fill="#deebf7"/>
<rect x="441.35" y="686.90" width="12.55" height="28.20" fill="#c6dbef"/>
<rect x="452.90" y="686.90" width="47.20" height="28.20" fill="#deebf7"/>
<rect x="499.10" y="686.90" width="35.65" height="28.20" fill="#c6dbef"/>
<rect x="533.75" y="686.90" width="12.55" height="28.20" fill="#9ecae1"/>
<rect x="545.30" y="686.90" width="12.55" height="28.20" fill="#c6dbef"/>
<rect x="556.85" y="686.90" width="12.55" height="28.20" fill="#deebf7"/>
<rect x="568.40" y="686.90" width="12.55" height="28.20" fill="#c6dbef"/>
<rect x="579.95" y="686.90" width="12.55" height="28.20" fill="#fee0d2"/>
<rect x="591.50" y="686.90" width="12.55" height="28.20" fill="#fcbba1"/>
<rect x="603.05" y="686.90" width="12.55" height="28.20" fill="#fc9272"/>
<rect x="614.60" y="686.90" width="12.55" height="28.20" fill="#fcbba1"/>
<rect x="626.15" y="686.90" width="12.55" height="28.20" fill="#fc9272"/>
<rect x="637.70" y="686.90" width="58.75" height="28.20" fill="#fcbba1"/>
<rect x="695.45" y="686.90" width="12.55" height="28.20" fill="#fc9272"/>
<rect x="707.00" y="686.90" width="35.65" height="28.20" fill="#fb6a4a"/>
<rect x="741.65" y="686.90" width="12.55" height="28.20" fill="#fc9272"/>
<rect x="753.20" y="686.90" width="35.65" height="28.20" fill="#fb6a4a"/>
<rect x="787.85" y="686.90" width="12.55" height="28.20" fill="#ef3b2c"/>
<rect x="799.40" y="686.90" width="24.10" height="28.20" fill="#cb181d"/>
<rect x="822.50" y="686.90" width="24.10" height="28.20" fill="#ef3b2c"/>
<rect x="845.60" y="686.90" width="11.55" height="28.20" fill="#a50f15"/>
<rect x="94.85" y="714.10" width="24.10" height="38.70" fill="#deebf7"/>
<rect x="117.95" y="714.10" width="12.55" height="38.70" fill="#fee0d2"/>
<rect x="129.50" y="714.10" width="12.55" height="38.70" fill="#deebf7"/>
<rect x="141.05" y="714.10" width="24.10" height="38.70" fill="#fee0d2"/>
<rect x="164.15" y="714.10" width="24.10" height="38.70" fill="#deebf7"/>
<rect x="187.25" y="714.10" width="12.55" height="38.70" fill="#c6dbef"/>
<rect x="198.80" y="714.10" width="24.10" height="38.70" fill="#deebf7"/>
<rect x="221.90" y="714.10" width="12.55" height="38.70" fill="#fee0d2"/>
<rect x="233.45" y="714.10" width="35.65" height="38.70" fill="#deebf7"/>
<rect x="268.10" y="714.10" width="12.55" height="38.70" fill="#fee0d2"/>
<rect x="279.65" y="714.10" width="12.55" height="38.70" fill="#deebf7"/>
<rect x="291.20" y="714.10" width="24.10" height="38.70" fill="#fee0d2"/>
<rect x="314.30" y="714.10" width="12.55" height="38.70" fill="#deebf7"/>
<rect x="325.85" y="714.10" width="24.10" height="38.70" fill="#fee0d2"/>
<rect x="348.95" y="714.10" width="93.40" height="38.70" fill="#deebf7"/>
<rect x="441.35" y="714.10" width="12.55" height="38.70" fill="#c6dbef"/>
<rect x="452.90" y="714.10" width="47.20" height="38.70" fill="#deebf7"/>
<rect x="499.10" y="714.10" width="47.20" height="38.70" fill="#c6dbef"/>
<rect x="545.30" y="714.10" width="35.65" height="38.70" fill="#deebf7"/>
<rect x="579.95" y="714.10" width="12.55" height="38.70" fill="#fee0d2"/>
<rect x="591.50" y="714.10" width="93.40" height="38.70" fill="#fcbba1"/>
<rect x="683.90" y="714.10" width="24.10" height="38.70" fill="#fc9272"/>
<rect x="707.00" y="714.10" width="47.20" height="38.70" fill="#fb6a4a"/>
<rect x="753.20" y="714.10" width="58.75" height="38.70" fill="#ef3b2c"/>
<rect x="810.95" y="714.10" width="12.55" height="38.70" fill="#cb181d"/>
<rect x="822.50" y="714.10" width="24.10" height="38.70" fill="#ef3b2c"/>
<rect x="845.60" y="714.10" width="11.55" height="38.70" fill="#cb181d"/>
<rect x="94.85" y="751.80" width="12.55" height="49.00" fill="#c6dbef"/>
<rect x="106.40" y="751.80" width="24.10" height="49.00" fill="#deebf7"/>
<rect x="129.50" y="751.80" width="12.55" height="49.00" fill="#c6dbef"/>
<rect x="141.05" y="751.80" width="24.10" height="49.00" fill="#deebf7"/>
<rect x="164.15" y="751.80" width="58.75" height="49.00" fill="#c6dbef"/>
<rect x="221.90" y="751.80" width="128.05" height="49.00" fill="#deebf7"/>
<rect x="348.95" y="751.80" width="12.55" height="49.00" fill="#c6dbef"/>
<rect x="360.50" y="751.80" width="162.70" height="49.00" fill="#deebf7"/>
<rect x="522.20" y="751.80" width="12.55" height="49.00" fill="#c6dbef"/>
<rect x="533.75" y="751.80" width="35.65" height="49.00" fill="#deebf7"/>
<rect x="568.40" y="751.80" width="35.65" height="49.00" fill="#fee0d2"/>
<rect x="603.05" y="751.80" width="81.85" height="49.00" fill="#fcbba1"/>
<rect x="683.90" y="751.80" width="24.10" height="49.00" fill="#fc9272"/>
<rect x="707.00" y="751.80" width="81.85" height="49.00" fill="#fb6a4a"/>
<rect x="787.85" y="751.80" width="69.30" height="49.00" fill="#ef3b2c"/>
<rect x="94.85" y="799.80" width="497.65" height="56.80" fill="#deebf7"/>
<rect x="591.50" y="799.80" width="35.65" height="56.80" fill="#fee0d2"/>
<rect x="626.15" y="799.80" width="70.30" height="56.80" fill="#fcbba1"/>
<rect x="695.45" y="799.80" width="139.60" height="56.80" fill="#fc9272"/>
<rect x="834.05" y="799.80" width="23.10" height="56.80" fill="#fb6a4a"/>
</g>
<g stroke="#b9b9b9" stroke-width="2">
<line x1="314.3" y1="285.4" x2="943" y2="285.4"/>
<line x1="32" y1="475.95" x2="943" y2="475.95"/>
<line x1="94.85" y1="666.4" x2="943" y2="666.4"/>
<line x1="74.4" y1="106" x2="74.4" y2="462"/>
<line x1="74.4" y1="489" x2="74.4" y2="827"/>
<path d="M100.62,881.5 V870.8 H851.38 V881.5" fill="none" stroke-linejoin="round"/>
</g>
<g stroke="#b9b9b9" stroke-width="1.95" stroke-linecap="butt" fill="none">
<line x1="74.05" y1="104.3" x2="71.0" y2="118.9"/>
<line x1="74.75" y1="104.3" x2="77.85" y2="118.9"/>
<line x1="74.05" y1="828.6" x2="71.0" y2="812.2"/>
<line x1="74.75" y1="828.6" x2="77.85" y2="812.2"/>
</g>
<polygon points="73.2,104.3 75.6,104.3 76.6,113 72.2,113" fill="#b9b9b9"/>
<polygon points="73.2,828.6 75.6,828.6 76.8,818.2 72.0,818.2" fill="#b9b9b9"/>

<g font-size="20.3">
<text x="8.6" y="145.5">Height</text>
<text x="10.2" y="799.3">Depth</text>
<text transform="translate(62.1 383.9) rotate(-90)" text-anchor="middle" font-size="19.7">ATMOSPHERE</text>
<text transform="translate(62.1 538.7) rotate(-90)" text-anchor="middle" font-size="19.7">OCEAN</text>
</g>
<g font-size="13.5">
<text x="903.0" y="115.7" text-anchor="middle">Upper</text>
<text x="903.0" y="132.2" text-anchor="middle">stratosphere</text>
<text x="903.0" y="163.2" text-anchor="middle">Middle</text>
<text x="903.0" y="179.7" text-anchor="middle">stratosphere</text>
<text x="903.0" y="210.8" text-anchor="middle">Low-mid</text>
<text x="903.0" y="227.3" text-anchor="middle">stratosphere</text>
<text x="903.0" y="258.3" text-anchor="middle">Lower</text>
<text x="903.0" y="274.8" text-anchor="middle">stratosphere</text>
<text x="903.0" y="305.9" text-anchor="middle">Upper</text>
<text x="903.0" y="322.4" text-anchor="middle">troposphere</text>
<text x="903.0" y="353.4" text-anchor="middle">Middle</text>
<text x="903.0" y="369.9" text-anchor="middle">troposphere</text>
<text x="903.0" y="401.0" text-anchor="middle">Lower</text>
<text x="903.0" y="417.5" text-anchor="middle">troposphere</text>
<text x="903.0" y="456.9" text-anchor="middle">Surface</text>
<line x1="874.2" y1="528.8" x2="885.7" y2="528.8" stroke="#b9b9b9" stroke-width="2.4"/>
<text x="887.7" y="533.7" font-size="13.1">100m</text>
<line x1="874.2" y1="581.6" x2="885.7" y2="581.6" stroke="#b9b9b9" stroke-width="2.4"/>
<text x="887.7" y="586.5" font-size="13.1">200m</text>
<line x1="874.2" y1="640.1" x2="885.7" y2="640.1" stroke="#b9b9b9" stroke-width="2.4"/>
<text x="887.7" y="645.0" font-size="13.1">300m</text>
<line x1="874.2" y1="687.1" x2="885.7" y2="687.1" stroke="#b9b9b9" stroke-width="2.4"/>
<text x="887.7" y="692.0" font-size="13.1">500m</text>
<line x1="874.2" y1="752.1" x2="885.7" y2="752.1" stroke="#b9b9b9" stroke-width="2.4"/>
<text x="887.7" y="757.0" font-size="13.1">1000m</text>
<line x1="874.2" y1="822.9" x2="885.7" y2="822.9" stroke="#b9b9b9" stroke-width="2.4"/>
<text x="887.7" y="827.8" font-size="13.1">1500m</text>
</g>
<g font-size="17.5">
<line x1="100.62" y1="870.8" x2="100.62" y2="881.5" stroke="#b9b9b9" stroke-width="2"/>
<text x="100.62" y="898.4" text-anchor="middle">1960</text>
<line x1="216.12" y1="870.8" x2="216.12" y2="881.5" stroke="#b9b9b9" stroke-width="2"/>
<text x="216.12" y="898.4" text-anchor="middle">1970</text>
<line x1="331.62" y1="870.8" x2="331.62" y2="881.5" stroke="#b9b9b9" stroke-width="2"/>
<text x="331.62" y="898.4" text-anchor="middle">1980</text>
<line x1="447.12" y1="870.8" x2="447.12" y2="881.5" stroke="#b9b9b9" stroke-width="2"/>
<text x="447.12" y="898.4" text-anchor="middle">1990</text>
<line x1="562.62" y1="870.8" x2="562.62" y2="881.5" stroke="#b9b9b9" stroke-width="2"/>
<text x="562.62" y="898.4" text-anchor="middle">2000</text>
<line x1="678.13" y1="870.8" x2="678.13" y2="881.5" stroke="#b9b9b9" stroke-width="2"/>
<text x="678.13" y="898.4" text-anchor="middle">2010</text>
<line x1="793.63" y1="870.8" x2="793.63" y2="881.5" stroke="#b9b9b9" stroke-width="2"/>
<text x="793.63" y="898.4" text-anchor="middle">2020</text>
<line x1="851.38" y1="870.8" x2="851.38" y2="881.5" stroke="#b9b9b9" stroke-width="2"/>
<text x="851.38" y="898.4" text-anchor="middle">2025</text>
</g>
</svg>
</body></html>
